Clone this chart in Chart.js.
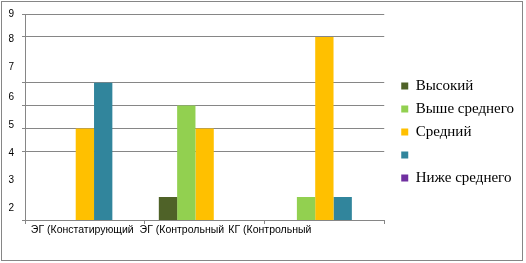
<!DOCTYPE html>
<html>
<head>
<meta charset="utf-8">
<script src="https://cdn.jsdelivr.net/npm/chart.js@4.4.1/dist/chart.umd.min.js"></script>
<style>
  html, body { margin: 0; padding: 0; background: #fff; }
  #wrap { position: relative; width: 526px; height: 263px; }
  #frame { position: absolute; left: 1px; top: 1px; width: 520px; height: 258px; border: 1px solid #868686; pointer-events: none; }
</style>
</head>
<body>
<div id="wrap">
  <canvas id="chart" width="526" height="263"></canvas>
  <div id="frame"></div>
</div>
<script>
// категории и ряды
const categories = ['ЭГ (Констатирующий', 'ЭГ (Контрольный', 'КГ (Контрольный'];
const seriesNames = ['Высокий', 'Выше среднего', 'Средний', '', 'Ниже среднего'];
const vysokiy = [0, 2, 0];
const vysheSrednego = [0, 6, 2];
const sredniy = [5, 5, 9];
const bezNazvaniya = [7, 0, 2];
const nizheSrednego = [0, 0, 0];
const seriesColors = ['#4F6228', '#92D050', '#FFC000', '#31859C', '#7030A0'];

// ось Y: линии сетки и подписи (на исходнике подписи не совпадают с линиями)
const yGridValues = [1, 4, 5, 6, 7, 9, 10];
const yTickLabels = ['2', '3', '4', '5', '6', '7', '8', '9'];
const yTickAt = [1.52, 2.75, 3.93, 5.15, 6.37, 7.68, 8.91, 10];

const gray = '#868686';
// сдвиг подписей категорий влево от центра группы (как на исходнике)
const xLabelShift = [-54, -65, -96];

const seriesData = [vysokiy, vysheSrednego, sredniy, bezNazvaniya, nizheSrednego];

const labelAt = new Map();
yTickAt.forEach((v, i) => labelAt.set(v, yTickLabels[i]));

// подписи категорий рисуем сами, чтобы сдвинуть каждую по-своему
const categoryText = {
    id: 'categoryText',
    afterDraw(chart) {
        const { ctx, chartArea, scales: { x } } = chart;
        ctx.save();
        ctx.fillStyle = '#000';
        ctx.font = '10.5px "Liberation Sans"';
        ctx.textAlign = 'left';
        ctx.textBaseline = 'middle';
        categories.forEach((c, i) => {
            ctx.fillText(c, x.getPixelForValue(i) + xLabelShift[i], chartArea.bottom + 10.5);
        });
        ctx.restore();
    }
};

function initChart() {
    const ctx = document.getElementById('chart').getContext('2d');
    new Chart(ctx, {
        type: 'bar',
        data: {
            labels: categories,
            datasets: seriesData.map((d, i) => ({
                label: seriesNames[i],
                data: d,
                backgroundColor: seriesColors[i],
                borderWidth: 0
            }))
        },
        options: {
            responsive: false,
            animation: false,
            events: [],
            datasets: {
                bar: { categoryPercentage: 0.765, barPercentage: 1 }
            },
            layout: { padding: { left: 0, right: 2, top: 14, bottom: 13 } },
            plugins: {
                tooltip: { enabled: false },
                legend: {
                    position: 'right',
                    align: 'center',
                    maxWidth: 220,
                    labels: {
                        boxWidth: 7,
                        boxHeight: 7,
                        padding: 8,
                        color: '#000',
                        font: { family: 'Liberation Serif', size: 15 }
                    }
                }
            },
            scales: {
                x: {
                    grid: { display: true, drawOnChartArea: false, offset: true, tickLength: 4, color: gray },
                    border: { display: true, color: gray },
                    ticks: { display: false },
                    afterFit: s => { s.height = 30; }
                },
                y: {
                    min: 1,
                    max: 10,
                    grid: {
                        color: c => yGridValues.includes(c.tick.value) ? gray : 'rgba(0,0,0,0)',
                        tickLength: 3
                    },
                    border: { display: true, color: gray },
                    ticks: {
                        autoSkip: false,
                        padding: 8,
                        color: '#000',
                        font: { family: 'Liberation Sans', size: 10 },
                        callback: v => labelAt.has(v) ? labelAt.get(v) : ''
                    },
                    afterBuildTicks: s => {
                        const vals = Array.from(new Set([...yGridValues, ...yTickAt])).sort((a, b) => a - b);
                        s.ticks = vals.map(v => ({ value: v }));
                    },
                    afterFit: s => { s.width = 25; }
                },
                // пустая ось справа — отступ между графиком и легендой
                gap: {
                    type: 'linear',
                    position: 'right',
                    display: true,
                    grid: { display: false },
                    border: { display: false },
                    ticks: { display: false },
                    afterFit: s => { s.width = 9; }
                }
            }
        },
        plugins: [categoryText]
    });
}

document.addEventListener('DOMContentLoaded', () => {
    initChart();
});
</script>
</body>
</html>
